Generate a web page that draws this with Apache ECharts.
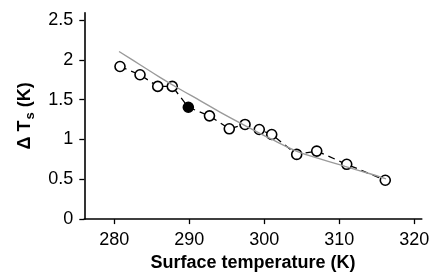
<!DOCTYPE html>
<html><head><meta charset="utf-8">
<script src="https://cdn.jsdelivr.net/npm/echarts@6/dist/echarts.min.js"></script>
<style>html,body{margin:0;padding:0;background:#fff}#c{width:437px;height:277px}</style>
</head><body><div id="c"></div>
<script>
// Observed points (surface temperature K, delta Ts K)
const tempK   = [280.76, 283.43, 285.79, 287.73, 289.87, 292.69, 295.33, 297.43, 299.33, 300.99, 304.32, 306.99, 310.99, 316.13];
const deltaTs = [1.916, 1.812, 1.666, 1.666, 1.404, 1.296, 1.134, 1.188, 1.125, 1.062, 0.812, 0.854, 0.688, 0.488];
const filledIndex = 4;
// Fitted gray curve
const fitTempK   = [280.63, 283.43, 286.09, 288.76, 291.43, 294.09, 297.43, 300.76, 304.36, 307.43, 310.76, 314.09, 316.23];
const fitDeltaTs = [2.104, 1.938, 1.78, 1.63, 1.488, 1.344, 1.175, 1.012, 0.85, 0.756, 0.662, 0.569, 0.506];
const xTicks = [280, 290, 300, 310, 320];
const yTicks = [0, 0.5, 1, 1.5, 2, 2.5];

const FONT = 'Liberation Sans, Arial, Helvetica, sans-serif';
const chart = echarts.init(document.getElementById('c'), null, {renderer: 'canvas'});
const obs = tempK.map((t, i) => {
  const item = {value: [t, deltaTs[i]]};
  if (i === filledIndex) item.itemStyle = {color: '#000', borderColor: '#000'};
  return item;
});
const fit = fitTempK.map((t, i) => [t, fitDeltaTs[i]]);

chart.setOption({
  animation: false,
  backgroundColor: '#fff',
  grid: {left: 84.3, right: 15.2, top: 12.8, bottom: 57, containLabel: false},
  xAxis: {
    type: 'value', min: 276, max: 321,
    name: 'Surface temperature (K)', nameLocation: 'middle', nameGap: 33,
    nameTextStyle: {fontFamily: FONT, fontSize: 18, fontWeight: 'bold', color: '#000'},
    axisLine: {show: true, onZero: false, lineStyle: {color: '#000', width: 1.6}},
    axisTick: {show: true, length: 5, customValues: xTicks, lineStyle: {color: '#000', width: 1.3}},
    axisLabel: {customValues: xTicks, margin: 12, fontFamily: FONT, fontSize: 18, color: '#000'},
    splitLine: {show: false}
  },
  yAxis: {
    type: 'value', min: 0, max: 2.59,
    name: '{a|Δ T}{s|s}{a| (K)}', nameLocation: 'middle', nameGap: 45, nameRotate: 90,
    nameTextStyle: {
      fontFamily: FONT, fontSize: 18, fontWeight: 'bold', color: '#000',
      rich: {
        a: {fontFamily: FONT, fontSize: 18, fontWeight: 'bold', color: '#000', lineHeight: 22},
        s: {fontFamily: FONT, fontSize: 13, fontWeight: 'bold', color: '#000', lineHeight: 22, padding: [12, 0, 0, 1]}
      }
    },
    axisLine: {show: true, onZero: false, lineStyle: {color: '#000', width: 1.6}},
    axisTick: {show: true, length: 5, customValues: yTicks, lineStyle: {color: '#000', width: 1.3}},
    axisLabel: {customValues: yTicks, margin: 11, fontFamily: FONT, fontSize: 18, color: '#000', formatter: v => String(v)},
    splitLine: {show: false}
  },
  series: [
    {
      type: 'line', data: obs, z: 2,
      symbol: 'circle', symbolSize: 10,
      lineStyle: {color: '#000', width: 1.3, type: [7, 5]},
      itemStyle: {color: '#fff', borderColor: '#000', borderWidth: 1.6}
    },
    {
      type: 'line', data: fit, z: 3, smooth: 0.4,
      symbol: 'none',
      lineStyle: {color: '#9a9a9a', width: 1.4}
    }
  ]
});
</script></body></html>
